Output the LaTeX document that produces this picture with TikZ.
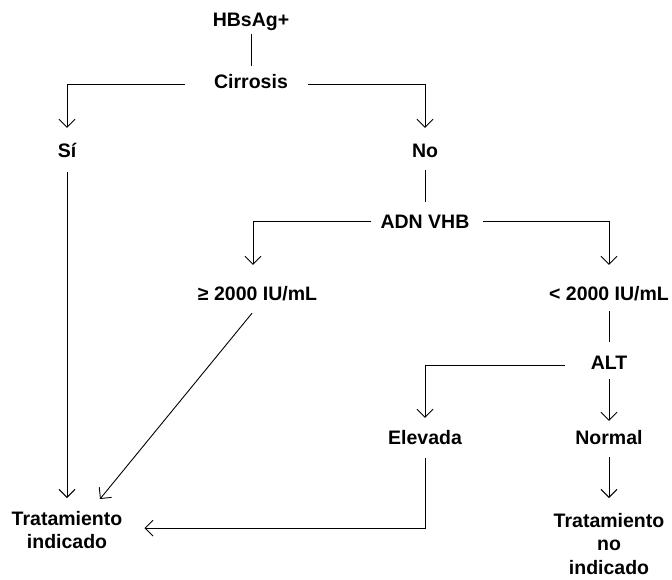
\documentclass[tikz,border=0pt]{standalone}
\usepackage{fontspec}
\setmainfont{Liberation Sans}
\usetikzlibrary{arrows.meta}

\begin{document}
\begin{tikzpicture}[
    x=1pt, y=-1pt,
    lbl/.style={font=\fontsize{19.5}{23.5}\selectfont\bfseries, inner sep=0pt,
      text height=14pt, text depth=0pt, anchor=base},
    lblTwo/.style={font=\fontsize{19.5}{23.5}\selectfont\bfseries, inner sep=0pt,
      align=center, anchor=north},
    ln/.style={line width=0.9pt, black},
    arr/.style={ln, -{Straight Barb[length=8pt, width=16pt]}},
]
\useasboundingbox (0,0) rectangle (672,579);
% labels
\node[lbl] (hbs)  at (251, 26)   {HBsAg+};
\node[lbl] (cirr) at (251, 88.5) {Cirrosis};
\node[lbl] (si)   at (67, 157)   {Sí};
\node[lbl] (no)   at (425, 157)  {No};
\node[lbl] (adn)  at (425, 228)  {ADN VHB};
\node[lbl] (hi)   at (257.5, 300) {≥ 2000 IU/mL};
\node[lbl] (lo)   at (609, 300)  {< 2000 IU/mL};
\node[lbl] (alt)  at (609, 369)  {ALT};
\node[lbl] (elev) at (425, 444)  {Elevada};
\node[lbl] (norm) at (609, 444)  {Normal};
\node[lblTwo] (trat)   at (67, 511)  {Tratamiento\\indicado};
\node[lblTwo] (tratno) at (609, 513) {Tratamiento\\no\\indicado};
% connectors
\draw[ln] ([yshift=-8pt]hbs.south) -- ([yshift=8pt]cirr.north);
\draw[arr] ([xshift=-29pt, yshift=-2.5pt]cirr.west) -| ([yshift=15pt]si.north);
\draw[arr] ([xshift=20pt, yshift=-2.5pt]cirr.east) -| ([yshift=15pt]no.north);
\draw[arr] ([yshift=-15pt]si.south) -- ([yshift=13pt]trat.north);
\draw[ln] ([yshift=-13pt]no.south) -- ([yshift=12pt]adn.north);
\draw[arr] ([xshift=-9pt]adn.west) -| ([xshift=-4.5pt, yshift=21pt]hi.north);
\draw[arr] ([xshift=13pt]adn.east) -| ([yshift=21pt]lo.north);
\draw[arr] ([xshift=-5.5pt, yshift=-13pt]hi.south) -- ([xshift=33pt, yshift=12pt]trat.north);
\draw[ln] ([yshift=-11pt]lo.south) -- ([yshift=13pt]alt.north);
\draw[arr] ([xshift=-26pt, yshift=-3pt]alt.west) -| ([yshift=12pt]elev.north);
\draw[arr] ([yshift=-10pt]alt.south) -- ([yshift=9pt]norm.north);
\draw[arr] ([yshift=-14pt]elev.south) |- ([xshift=22pt, yshift=2pt]trat.east);
\draw[arr] ([yshift=-13pt]norm.south) -- ([yshift=15pt]tratno.north);
\end{tikzpicture}
\end{document}
